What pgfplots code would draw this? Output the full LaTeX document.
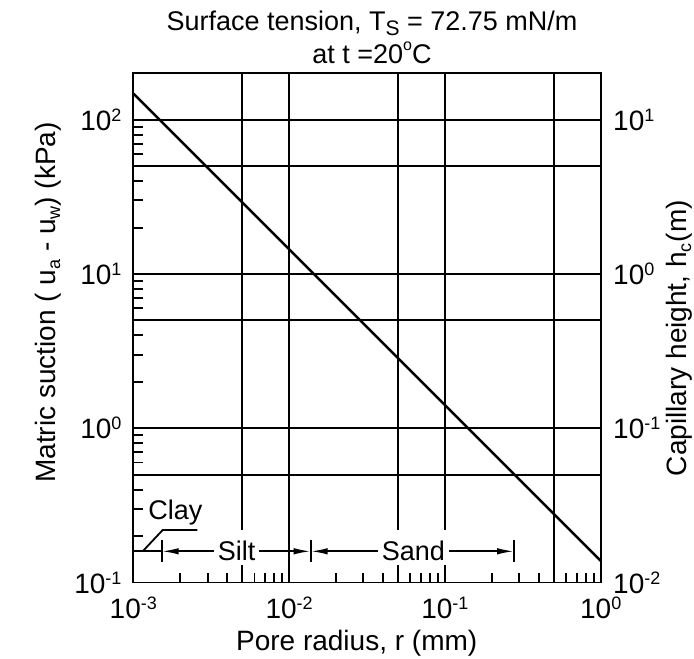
\documentclass[border=0pt]{standalone}
\usepackage{fontspec}
\setmainfont{Liberation Sans}
\usepackage{pgfplots}
\pgfplotsset{compat=1.18}
\usetikzlibrary{arrows.meta}
\newcommand\Sp[1]{\raisebox{9bp}{\fontsize{18bp}{18bp}\selectfont #1}}
\newcommand\Sb[1]{\raisebox{-5bp}{\fontsize{18bp}{18bp}\selectfont #1}}
\newcommand\Sbt[1]{\raisebox{-4.5bp}{\fontsize{21bp}{21bp}\selectfont #1}}
\newcommand\Spo[1]{\raisebox{13bp}{\fontsize{16bp}{16bp}\selectfont #1}}
\newcommand\tl[1]{10\Sp{#1}}
\newcommand\fs{\fontsize{28bp}{32bp}\selectfont}
\newcommand\fst{\fontsize{27bp}{31bp}\selectfont}
\begin{document}
\begin{tikzpicture}
\begin{axis}[
  scale only axis, width=467.4bp, height=509.2bp,
  xmode=log, ymode=log,
  xmin=0.001, xmax=1, ymin=0.1, ymax=200,
  axis line style={line width=1.9bp},
  xtick={0.001,0.005,0.01,0.05,0.1,0.5,1},
  xticklabels={\tl{-3},,\tl{-2},,\tl{-1},,\tl{0}},
  ytick={0.1,0.5,1,5,10,50,100},
  yticklabels={\tl{-1},,\tl{0},,\tl{1},,\tl{2}},
  minor xtick={0.002,0.003,0.004,0.006,0.007,0.008,0.009,
               0.02,0.03,0.04,0.06,0.07,0.08,0.09,
               0.2,0.3,0.4,0.6,0.7,0.8,0.9},
  minor ytick={0.2,0.3,0.4,0.6,0.7,0.8,0.9,
               2,3,4,6,7,8,9,
               20,30,40,60,70,80,90},
  grid=major, major grid style={black, line width=1.9bp},
  xtick pos=bottom, ytick pos=left,
  tick align=inside,
  major tick length=10bp, minor tick length=10bp,
  tick style={black, line width=1.9bp},
  tick label style={font=\fs, inner sep=0pt},
  xticklabel shift=14bp, yticklabel shift=11.6bp,
  xlabel={Pore radius, r (mm)},
  ylabel={Matric suction ( u\Sb{a} - u\Sb{w}) (kPa)},
  label style={font=\fs},
  xlabel style={at={(axis description cs:0.478,-0.1326)}, anchor=base},
  ylabel style={at={(axis description cs:-0.1675,0.55)}, anchor=base},
]
\addplot[black, line width=2.5bp] coordinates {(0.001,148) (1,0.138)};
\end{axis}
\begin{axis}[
  scale only axis, width=467.4bp, height=509.2bp,
  xmode=log, ymode=log,
  xmin=0.001, xmax=1, ymin=0.01, ymax=20,
  axis x line=none, axis y line*=right,
  axis line style={line width=1.9bp},
  ytick={0.01,0.1,1,10}, yticklabels={\tl{-2},\tl{-1},\tl{0},\tl{1}},
  major tick length=0pt, minor tick length=0pt,
  tick label style={font=\fs, inner sep=0pt},
  yticklabel shift=12.3bp,
  ylabel={Capillary height, h\Sb{c}\kern1bp(m)},
  ylabel style={font=\fs, at={(axis description cs:1.1825,0.48)}, anchor=base},
]
\end{axis}
\begin{scope}[line width=1.8bp]
  \draw (0,31.2bp) -- (28.4bp,31.2bp);
  \draw (9.4bp,31.2bp) -- (29.4bp,52.5bp) -- (64bp,52.5bp);
  \node[font=\fst, anchor=base, inner sep=0pt] at (42.2bp,63.2bp) {Clay};
  \draw (28.4bp,20.8bp) -- (28.4bp,42.5bp);
  \draw (177.4bp,20.8bp) -- (177.4bp,42.5bp);
  \draw (380.7bp,20.8bp) -- (380.7bp,42.5bp);
  \draw[{Latex[length=17bp,width=6.5bp]}-{Latex[length=17bp,width=6.5bp]}] (28.4bp,31.2bp) -- (177.4bp,31.2bp);
  \draw[{Latex[length=17bp,width=6.5bp]}-{Latex[length=17bp,width=6.5bp]}] (177.4bp,31.2bp) -- (380.7bp,31.2bp);
  \node[font=\fst, fill=white, anchor=base, inner xsep=4bp, inner ysep=0pt, text height=30.7bp, text depth=4.3bp] at (103.3bp,21.8bp) {Silt};
  \node[font=\fst, fill=white, anchor=base, inner xsep=4bp, inner ysep=0pt, text height=30.7bp, text depth=4.3bp] at (280bp,21.8bp) {Sand};
\end{scope}
\node[font=\fst, anchor=base, inner sep=0pt] at (238.7bp,551.8bp) {Surface tension, T\Sbt{S} = 72.75 mN/m};
\node[font=\fst, anchor=base, inner sep=0pt] at (238.7bp,518.5bp) {at t =20\Spo{o}C};
\pgfresetboundingbox
\path[use as bounding box] (-133.3bp,-76.5bp) rectangle (560.7bp,582.5bp);
\end{tikzpicture}
\end{document}
